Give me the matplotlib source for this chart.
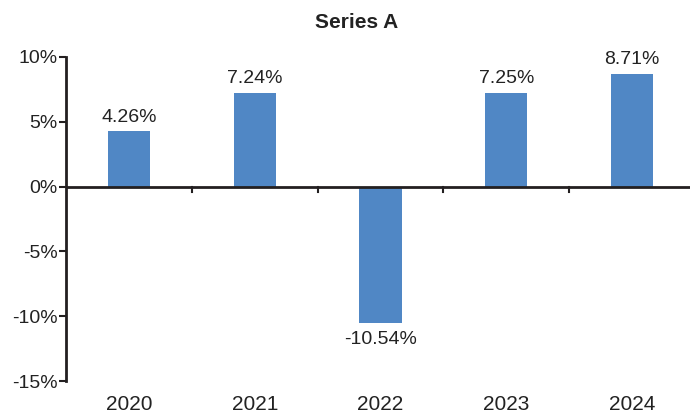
import matplotlib
matplotlib.use("Agg")
import matplotlib.pyplot as plt
from matplotlib.ticker import FuncFormatter

categories = ["2020", "2021", "2022", "2023", "2024"]
values = [4.26, 7.24, -10.54, 7.25, 8.71]
yticks = [-15, -10, -5, 0, 5, 10]

plt.rcParams['font.family'] = ['Liberation Sans', 'DejaVu Sans']

W, H = 690, 417
fig = plt.figure(figsize=(W/100, H/100), dpi=100)
left, right = 66, 690
top, bottom = 57, 381
ax = fig.add_axes([left/W, 1-bottom/H, (right-left)/W, (bottom-top)/H])

x = list(range(len(categories)))
bar_color = "#5087C5"
ax.bar(x, values, width=0.335, color=bar_color, zorder=2)

ax.set_ylim(-15, 10)
ax.set_xlim(-0.5, 4.46)
ax.set_yticks(yticks)
ax.yaxis.set_major_formatter(FuncFormatter(lambda v, p: f"{int(v)}%"))
axcol = "#231f20"
txtcol = "#222222"
for s in ["top", "right", "bottom"]:
    ax.spines[s].set_visible(False)
ax.spines["left"].set_color(axcol)
ax.spines["left"].set_linewidth(2)
ax.tick_params(axis="y", direction="out", length=5, width=1.5, color=axcol,
               labelsize=14, labelcolor=txtcol, pad=1)
ax.axhline(0, color=axcol, linewidth=2, zorder=3)
ax.set_xticks([])
for xm in [0.5, 1.5, 2.5, 3.5]:
    ax.plot([xm, xm], [0, -0.45], color=axcol, linewidth=1.5, zorder=3, clip_on=False)
for xi, c in zip(x, categories):
    ax.text(xi, -16.1, c, ha="center", va="top", fontsize=15, color=txtcol)

for xi, v in zip(x, values):
    if v >= 0:
        ax.text(xi, v + 0.45, f"{v:.2f}%", ha="center", va="bottom", fontsize=14, color=txtcol)
    else:
        ax.text(xi, v - 0.6, f"{v:.2f}%", ha="center", va="top", fontsize=14, color=txtcol)

fig.text(357/W, 1-23/H, "Series A", ha="center", va="center", fontsize=15,
         fontweight="bold", color=txtcol)

fig.savefig("out.png", dpi=100)
